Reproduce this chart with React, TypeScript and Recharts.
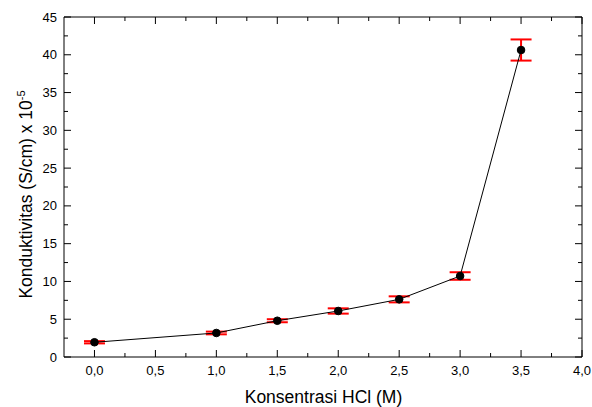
import React from 'react';
import { ComposedChart, Line, XAxis, YAxis, ErrorBar, Label } from 'recharts';

// ── Data ─────────────────────────────────────────────────────────────────────

const konsentrasi = [0.0, 1.0, 1.5, 2.0, 2.5, 3.0, 3.5];
const konduktivitas = [1.95, 3.18, 4.8, 6.09, 7.63, 10.72, 40.63];
const galat = [0.15, 0.18, 0.2, 0.35, 0.4, 0.5, 1.4];

const xTicks = [0, 0.25, 0.5, 0.75, 1, 1.25, 1.5, 1.75, 2, 2.25, 2.5, 2.75, 3, 3.25, 3.5, 3.75, 4];
const yTicks = [0, 2.5, 5, 7.5, 10, 12.5, 15, 17.5, 20, 22.5, 25, 27.5, 30, 32.5, 35, 37.5, 40, 42.5, 45];

const data = konsentrasi.map((x, i) => ({ x, y: konduktivitas[i], err: galat[i] }));

const FONT = '"Liberation Sans", Arial, sans-serif';
const fmtX = (v: number) => v.toFixed(1).replace('.', ',');
const isHalf = (v: number) => Math.abs(v * 2 - Math.round(v * 2)) < 1e-6;

// ── Ticks (inward, major + minor) ────────────────────────────────────────────

const BottomTick = ({ x, y, payload }: any) => {
  const major = isHalf(payload.value);
  return (
    <g>
      <line x1={x} x2={x} y1={y} y2={y - (major ? 7 : 4)} stroke="#000" />
      {major && (
        <text x={x} y={y + 18} textAnchor="middle" fontSize={13} fontFamily={FONT} fill="#000">
          {fmtX(payload.value)}
        </text>
      )}
    </g>
  );
};

const TopTick = ({ x, y, payload }: any) => {
  const major = isHalf(payload.value);
  return <line x1={x} x2={x} y1={y} y2={y + (major ? 7 : 4)} stroke="#000" />;
};

const LeftTick = ({ x, y, payload }: any) => {
  const major = payload.value % 5 === 0;
  return (
    <g>
      <line x1={x} x2={x + (major ? 7 : 4)} y1={y} y2={y} stroke="#000" />
      {major && (
        <text x={x - 7} y={y + 4.5} textAnchor="end" fontSize={13} fontFamily={FONT} fill="#000">
          {payload.value}
        </text>
      )}
    </g>
  );
};

const RightTick = ({ x, y, payload }: any) => {
  const major = payload.value % 5 === 0;
  return <line x1={x} x2={x - (major ? 7 : 4)} y1={y} y2={y} stroke="#000" />;
};

const XTitle = () => (
  <text x={323.5} y={403} textAnchor="middle" fontSize={17.5} fontFamily={FONT} fill="#000">
    Konsentrasi HCl (M)
  </text>
);

const YTitle = () => (
  <text
    x={32}
    y={194.5}
    transform="rotate(-90, 32, 194.5)"
    textAnchor="middle"
    fontSize={17.5}
    fontFamily={FONT}
    fill="#000"
  >
    Konduktivitas (S/cm) x 10
    <tspan dy={-7} fontSize={11}>-5</tspan>
  </text>
);

export default function App() {
  return (
    <div style={{ position: 'fixed', top: 0, left: 0, width: 592, height: 407, background: '#fff' }}>
      <ComposedChart width={592} height={407} data={data} margin={{ top: 16, right: 9, bottom: 0, left: 0 }}>
        <XAxis
          xAxisId="b" dataKey="x" type="number" domain={[-0.25, 4]} allowDataOverflow
          ticks={xTicks} interval={0} tickSize={0} tickMargin={0} tickLine={false}
          tick={<BottomTick />} height={50} axisLine={{ stroke: '#000' }}
        >
          <Label content={<XTitle />} />
        </XAxis>
        <XAxis
          xAxisId="t" orientation="top" dataKey="x" type="number" domain={[-0.25, 4]} allowDataOverflow
          ticks={xTicks} interval={0} tickSize={0} tickMargin={0} tickLine={false}
          tick={<TopTick />} height={1} axisLine={{ stroke: '#000' }}
        />
        <YAxis
          yAxisId="l" type="number" domain={[0, 45]} allowDataOverflow
          ticks={yTicks} interval={0} tickSize={0} tickMargin={0} tickLine={false}
          tick={<LeftTick />} width={64} axisLine={{ stroke: '#000' }}
        >
          <Label content={<YTitle />} />
        </YAxis>
        <YAxis
          yAxisId="r" orientation="right" type="number" domain={[0, 45]} allowDataOverflow
          ticks={yTicks} interval={0} tickSize={0} tickMargin={0} tickLine={false}
          tick={<RightTick />} width={1} axisLine={{ stroke: '#000' }}
        />
        <Line
          xAxisId="b" yAxisId="l" dataKey="y" type="linear"
          stroke="#000" strokeWidth={1}
          dot={{ r: 3.8, fill: '#000', stroke: '#000', strokeWidth: 1 }}
          activeDot={false}
          isAnimationActive={false}
        >
          <ErrorBar dataKey="err" direction="y" width={10.5} stroke="#ff0000" strokeWidth={2} />
        </Line>
        {/* series bound to the frame axes so they get drawn */}
        <Line
          xAxisId="t" yAxisId="r" dataKey="y" stroke="none" dot={false}
          activeDot={false} isAnimationActive={false} legendType="none"
        />
      </ComposedChart>
    </div>
  );
}
